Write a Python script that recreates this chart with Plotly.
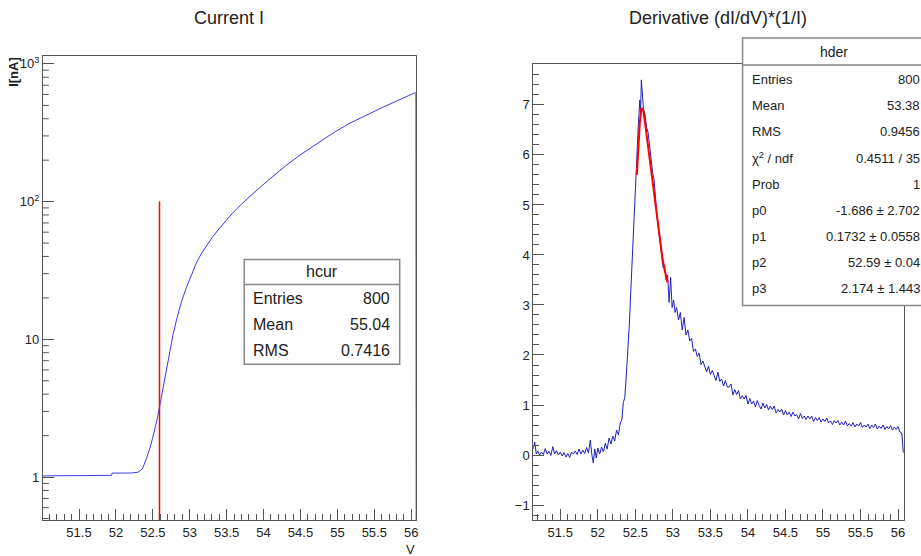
import plotly.graph_objects as go

# ---------------- data ----------------
# Left pad: current I [nA] vs V (histogram hcur, drawn as line)
cur_v = [51.01, 51.5, 51.94, 51.95, 52.2, 52.30, 52.36, 52.414, 52.46, 52.50, 52.53, 52.563,
         52.60, 52.63, 52.67, 52.72, 52.77, 52.82, 52.88, 52.954, 53.02, 53.09, 53.16, 53.23,
         53.305, 53.40, 53.50, 53.575, 53.70, 53.80, 53.90, 54.05, 54.20, 54.305, 54.50, 54.71,
         54.93, 55.155, 55.38, 55.60, 55.83, 56.06, 56.065]
cur_i = [1.02, 1.02, 1.03, 1.07, 1.07, 1.085, 1.15, 1.37, 1.62, 1.95, 2.26, 2.70,
         3.43, 4.22, 5.62, 7.85, 10.6, 13.8, 18.2, 23.8, 29.5, 35.9, 42.2, 48.4,
         55.0, 63.8, 74.1, 82.0, 95.9, 107.6, 120, 141, 165, 183, 219, 262,
         312, 368, 422, 480, 546, 620, 0.3]

# fitted peak position (p2) marked on current plot
fit_p2 = 52.59
mark_range = [100, 0.3]

# Right pad: derivative (dI/dV)*(1/I), histogram hder
der_v = [51.14, 51.16, 51.18, 51.20, 51.225, 51.25, 51.275, 51.30, 51.325, 51.35, 51.375, 51.40,
         51.425, 51.45, 51.475, 51.50, 51.525, 51.55, 51.575, 51.60, 51.625, 51.65, 51.675, 51.70,
         51.725, 51.75, 51.775, 51.80, 51.825, 51.85, 51.875, 51.90, 51.92, 51.94, 51.96, 51.98,
         52.00, 52.025, 52.05, 52.075, 52.10, 52.125, 52.15, 52.175, 52.20, 52.225, 52.25, 52.275,
         52.30, 52.32, 52.34, 52.36, 52.38, 52.40, 52.42, 52.44, 52.46, 52.48, 52.50, 52.52,
         52.54, 52.56, 52.57, 52.58, 52.595, 52.61, 52.63, 52.65, 52.67, 52.69, 52.71, 52.73,
         52.75, 52.77, 52.79, 52.81, 52.83, 52.85, 52.87, 52.89, 52.91, 52.93, 52.95, 52.97,
         52.99, 53.01, 53.03, 53.05, 53.075, 53.10, 53.125, 53.15, 53.175,
         53.200, 53.225, 53.250, 53.275, 53.300, 53.325, 53.350, 53.375, 53.400, 53.425, 53.450, 53.475,
         53.500, 53.525, 53.550, 53.575, 53.600, 53.625, 53.650, 53.675, 53.700, 53.725, 53.750, 53.775,
         53.800, 53.825, 53.850, 53.875, 53.900, 53.925, 53.950, 53.975, 54.000, 54.025, 54.050, 54.075,
         54.100, 54.125, 54.150, 54.175, 54.200, 54.225, 54.250, 54.275, 54.300, 54.325, 54.350, 54.375,
         54.400, 54.425, 54.450, 54.475, 54.500, 54.525, 54.550, 54.575, 54.600, 54.625, 54.650, 54.675,
         54.700, 54.725, 54.750, 54.775, 54.800, 54.825, 54.850, 54.875, 54.900, 54.925, 54.950, 54.975,
         55.000, 55.025, 55.050, 55.075, 55.100, 55.125, 55.150, 55.175, 55.200, 55.225, 55.250, 55.275,
         55.300, 55.325, 55.350, 55.375, 55.400, 55.425, 55.450, 55.475, 55.500, 55.525, 55.550, 55.575,
         55.600, 55.625, 55.650, 55.675, 55.700, 55.725, 55.750, 55.775, 55.800, 55.825, 55.850, 55.875,
         55.900, 55.925, 55.950, 55.975, 56.000, 56.025, 56.05, 56.07]
der_y = [0.12, 0.26, 0.02, 0.08, 0.00, 0.06, 0.01, 0.13, 0.02, 0.07, -0.01, 0.17,
         0.02, 0.09, 0.00, 0.06, -0.02, 0.05, -0.04, 0.03, -0.05, 0.06, 0.02, 0.08,
         0.01, 0.12, 0.02, 0.10, 0.03, 0.15, 0.04, 0.30, 0.02, -0.16, 0.12, -0.06,
         0.14, 0.02, 0.16, 0.06, 0.24, 0.12, 0.34, 0.22, 0.38, 0.28, 0.50, 0.40,
         0.64, 0.70, 1.05, 1.15, 1.60, 2.0, 2.6, 3.3, 4.0, 4.35, 5.3, 5.9,
         6.6, 7.1, 6.8, 7.5, 7.1, 6.9, 6.8, 6.55, 6.45, 6.15, 6.0, 5.65,
         5.5, 5.0, 4.75, 4.5, 4.2, 4.0, 3.75, 3.8, 3.5, 3.6, 3.05, 3.55,
         2.95, 3.1, 2.85, 2.95, 2.7, 2.85, 2.5, 2.75, 2.4,
         2.50, 2.28, 2.33, 2.07, 2.12, 1.97, 2.04, 1.81, 1.88, 1.78, 1.66, 1.78,
         1.61, 1.69, 1.60, 1.49, 1.66, 1.47, 1.52, 1.38, 1.49, 1.36, 1.36, 1.42,
         1.20, 1.31, 1.21, 1.29, 1.12, 1.19, 1.12, 1.19, 1.02, 1.13, 1.02, 1.08,
         0.96, 1.09, 0.99, 0.92, 1.04, 0.94, 1.01, 0.90, 0.98, 0.91, 0.98, 0.84,
         0.91, 0.86, 0.92, 0.80, 0.89, 0.80, 0.86, 0.77, 0.86, 0.78, 0.81, 0.72,
         0.83, 0.73, 0.78, 0.71, 0.78, 0.72, 0.78, 0.67, 0.75, 0.69, 0.75, 0.66,
         0.72, 0.67, 0.74, 0.64, 0.68, 0.61, 0.69, 0.64, 0.69, 0.60, 0.66, 0.60,
         0.68, 0.58, 0.63, 0.58, 0.65, 0.56, 0.62, 0.58, 0.65, 0.55, 0.60, 0.56,
         0.62, 0.53, 0.60, 0.55, 0.62, 0.52, 0.58, 0.53, 0.60, 0.51, 0.57, 0.52,
         0.59, 0.50, 0.56, 0.51, 0.57, 0.46, 0.44, 0.05]

# fit function drawn over the peak (red)
fit_v = [52.52, 52.54, 52.56, 52.58, 52.60, 52.62, 52.65, 52.68, 52.71, 52.74, 52.77,
         52.80, 52.83, 52.86, 52.89, 52.93]
fit_y = [5.6, 6.2, 6.65, 6.92, 6.93, 6.75, 6.40, 6.02, 5.65, 5.28, 4.92,
         4.56, 4.22, 3.95, 3.70, 3.45]

x_ticks = [51.5, 52, 52.5, 53, 53.5, 54, 54.5, 55, 55.5, 56]
x_ticktext = ["51.5", "52", "52.5", "53", "53.5", "54", "54.5", "55", "55.5", "56"]
logy_ticks = [1, 10, 100, 1000]
logy_ticktext = ["1", "10", "10<sup>2</sup>", "10<sup>3</sup>"]
logy_minor = [0.5, 0.6, 0.7, 0.8, 0.9, 2, 3, 4, 5, 6, 7, 8, 9,
              20, 30, 40, 50, 60, 70, 80, 90, 200, 300, 400, 500, 600, 700, 800, 900]

hcur_labels = ["Entries", "Mean", "RMS"]
hcur_values = ["800", "55.04", "0.7416"]
hder_labels = ["Entries", "Mean", "RMS", "χ<sup>2</sup> / ndf", "Prob", "p0", "p1", "p2", "p3"]
hder_values = ["800", "53.38", "0.9456", "0.4511 / 35", "1", "-1.686 ± 2.702",
               "0.1732 ± 0.0558", "52.59 ± 0.04", "2.174 ± 1.443"]

# ---------------- layout helpers ----------------
W, H = 921, 556
FONT = "Liberation Sans, Arial, Helvetica, sans-serif"
AX = "#555555"
TXT = "#222222"
LOGRANGE = [-0.312, 3.058]
XRANGE_L = [51.01, 56.06]
XRANGE_R = [51.14, 56.08]
LEFT_PX = 417 - 43
MAJOR_LEN = 11
MINOR_LEN = 6


def px(x):
    return x / W


def py(y):
    return 1 - y / H


fig = go.Figure()

fig.add_trace(go.Scatter(x=cur_v, y=cur_i, mode="lines", xaxis="x", yaxis="y",
                         line=dict(color="#3a3af0", width=1)))
fig.add_trace(go.Scatter(x=[fit_p2, fit_p2], y=mark_range, mode="lines", xaxis="x", yaxis="y",
                         line=dict(color="#ff0000", width=1.5)))
fig.add_trace(go.Scatter(x=der_v, y=der_y, mode="lines", xaxis="x2", yaxis="y2",
                         line=dict(color="#2020c0", width=1)))
fig.add_trace(go.Scatter(x=fit_v, y=fit_y, mode="lines", xaxis="x2", yaxis="y2",
                         line=dict(color="#ff0000", width=2)))

# minor ticks of the log axis, drawn as short segments from the left frame
tick_dx = MINOR_LEN * (XRANGE_L[1] - XRANGE_L[0]) / LEFT_PX
mt_x, mt_y = [], []
for v in logy_minor:
    mt_x += [XRANGE_L[0], XRANGE_L[0] + tick_dx, None]
    mt_y += [v, v, None]
fig.add_trace(go.Scatter(x=mt_x, y=mt_y, mode="lines", xaxis="x", yaxis="y",
                         line=dict(color=AX, width=1), hoverinfo="skip"))

common = dict(showline=True, linecolor=AX, linewidth=1, mirror=True, ticks="inside",
              ticklen=MAJOR_LEN, tickcolor=AX, tickwidth=1, showgrid=False, zeroline=False,
              tickfont=dict(family=FONT, size=13, color=TXT))
minor_common = dict(ticks="inside", ticklen=MINOR_LEN, tickcolor=AX, tickwidth=1, showgrid=False)

fig.update_layout(
    width=W, height=H, margin=dict(l=0, r=0, t=0, b=0),
    paper_bgcolor="white", plot_bgcolor="white", showlegend=False,
    xaxis=dict(domain=[px(43), px(417)], range=XRANGE_L, anchor="y",
               tickmode="array", tickvals=x_ticks, ticktext=x_ticktext,
               minor=dict(dtick=0.1, tick0=51.0, **minor_common),
               **common),
    yaxis=dict(domain=[py(520), py(55)], type="log", range=LOGRANGE, anchor="x",
               tickmode="array", tickvals=logy_ticks, ticktext=logy_ticktext,
               **common),
    xaxis2=dict(domain=[px(535), px(907)], range=XRANGE_R, anchor="y2",
                tickmode="array", tickvals=x_ticks, ticktext=x_ticktext,
                minor=dict(dtick=0.1, tick0=51.0, **minor_common),
                **common),
    yaxis2=dict(domain=[py(520), py(63)], range=[-1.3, 7.82], anchor="x2",
                dtick=1, tick0=0,
                minor=dict(dtick=0.2, **minor_common),
                **common),
)

shapes = []
ann = []


def text(t, x, y, size, xa="center", **kw):
    ann.append(dict(text=t, x=px(x), y=py(y), xref="paper", yref="paper", showarrow=False,
                    xanchor=xa, yanchor="middle", font=dict(family=FONT, size=size, color=TXT), **kw))


# titles
text("Current I", 230, 17, 18)
text("Derivative (dI/dV)*(1/I)", 720, 17, 18)
# axis titles
ann.append(dict(text="<b>I[nA]</b>", x=px(14), y=py(54), xref="paper", yref="paper", textangle=-90,
                xanchor="center", yanchor="top", showarrow=False,
                font=dict(family=FONT, size=13, color=TXT)))
text("V", 412, 549, 13)

# hcur stats box
shapes.append(dict(type="rect", xref="paper", yref="paper", x0=px(245), x1=px(401),
                   y0=py(364), y1=py(259), line=dict(color="#888", width=1.5), fillcolor="white",
                   layer="above"))
shapes.append(dict(type="line", xref="paper", yref="paper", x0=px(245), x1=px(401),
                   y0=py(284), y1=py(284), line=dict(color="#888", width=1.5), layer="above"))
text("hcur", 323, 271, 16)
for i, (lab, val) in enumerate(zip(hcur_labels, hcur_values)):
    yy = 298 + 26 * i
    text(lab, 252, yy, 16, xa="left")
    text(val, 393, yy, 16, xa="right")

# hder stats box (extends past the right edge)
shapes.append(dict(type="rect", xref="paper", yref="paper", x0=px(745), x1=px(930),
                   y0=py(305), y1=py(37), line=dict(color="#888", width=1.5), fillcolor="white",
                   layer="above"))
shapes.append(dict(type="line", xref="paper", yref="paper", x0=px(745), x1=px(930),
                   y0=py(64), y1=py(64), line=dict(color="#888", width=1.5), layer="above"))
text("hder", 837, 51, 14)
for i, (lab, val) in enumerate(zip(hder_labels, hder_values)):
    yy = 79 + 26.1 * i
    text(lab, 752, yy, 13, xa="left")
    text(val, 925, yy, 13, xa="right")

fig.update_layout(shapes=shapes, annotations=ann)
fig.write_html("out.html")
